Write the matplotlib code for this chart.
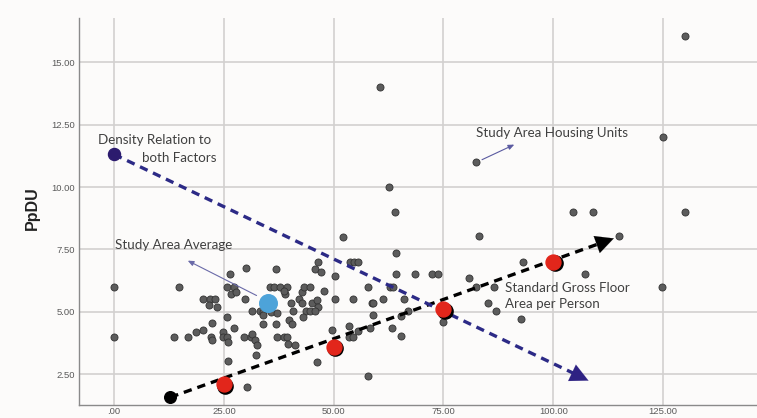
import matplotlib
import matplotlib.pyplot as plt
from matplotlib.transforms import offset_copy

matplotlib.use("Agg")

# Study area housing units (gross floor area per person vs PpDU)
unit_x = [
    0, 0, 14.8, 13.7, 16.9, 18.7, 20.2, 20.3, 21.9, 21.5, 23.4, 23.0,
    22.0, 22.2, 22.4, 24.7, 24.9, 25.6, 26.0, 25.8, 27.2, 26.0, 30.2,
    26.4, 30.0, 25.7, 27.3, 26.6, 27.7, 29.8, 29.6, 31.1, 31.3, 32.1,
    32.5, 32.4, 31.5, 33.2, 33.9, 33.8, 35.7, 37.2, 34.0, 36.8, 39.8,
    40.4, 37.0, 38.7, 39.4, 39.7, 41.2, 35.4, 36.3, 37.8, 39.3, 38.8,
    38.6, 36.8, 40.2, 42.0, 42.7, 43.3, 44.6, 42.7, 45.0, 46.3, 46.5,
    40.8, 43.7, 44.6, 45.8, 43.1, 47.7, 46.5, 45.8, 47.1, 50.3, 50.3,
    54.5, 52.2, 53.7, 54.6, 55.5, 57.8, 58.7, 59.0, 58.3, 49.7, 53.4,
    55.6, 53.5, 54.5, 46.1, 57.8, 60.6, 62.7, 64.0, 64.1, 64.2, 68.5,
    72.3, 73.8, 62.8, 63.6, 61.3, 65.9, 58.9, 67.0, 65.4, 63.2, 65.3,
    75.0, 80.8, 82.4, 86.5, 85.2, 87.0, 92.6, 83.0, 93.0, 82.4, 104.4,
    109.0, 107.2, 115.0, 124.7, 124.9, 130.0, 130.0,
]
unit_y = [
    6.0, 4.0, 6.0, 4.0, 4.0, 4.2, 4.26, 5.5, 5.5, 5.26, 5.2, 5.5,
    4.0, 3.86, 4.53, 4.2, 4.0, 4.0, 3.8, 4.8, 4.35, 3.03, 2.0,
    6.53, 6.75, 6.0, 6.0, 5.7, 5.8, 5.5, 4.0, 4.0, 4.1, 3.86,
    3.66, 3.27, 5.03, 5.03, 4.98, 4.86, 5.0, 4.96, 4.5, 4.5, 4.68,
    4.5, 4.0, 4.0, 4.0, 3.7, 3.65, 6.0, 6.0, 6.0, 6.0, 5.72,
    5.83, 6.7, 5.37, 5.5, 5.8, 6.0, 6.0, 5.36, 5.37, 5.46, 5.2,
    5.04, 5.04, 5.04, 5.04, 4.77, 5.83, 7.0, 6.7, 6.6, 6.43, 5.5,
    5.5, 8.0, 7.0, 7.0, 7.0, 6.0, 5.35, 4.86, 4.35, 4.26, 4.42,
    4.23, 4.0, 4.0, 3.0, 2.43, 14.0, 10.0, 9.0, 7.36, 6.53, 6.53,
    6.53, 6.53, 6.0, 6.0, 5.5, 5.5, 5.36, 5.04, 4.84, 4.36, 4.02,
    4.6, 6.36, 6.0, 6.0, 5.36, 5.03, 4.7, 8.03, 7.0, 11.0, 9.0,
    9.0, 6.5, 8.03, 6.0, 12.0, 9.0, 16.04,
]

avg_x, avg_y = 35.0, 5.36

# standard gross floor area per person (red markers) and its trend
std_x = [25, 50, 75, 100]
std_y = [2.1, 3.6, 5.1, 7.0]
std_start = (12.8, 1.57)
std_end = (114.4, 7.98)

# density relation to both factors
dens_start = (0, 11.31)
dens_end = (108.6, 2.19)

xticks = [0, 25, 50, 75, 100, 125]
xticklabels = [".00", "25.00", "50.00", "75.00", "100.00", "125.00"]
yticks = [2.5, 5.0, 7.5, 10.0, 12.5, 15.0]
yticklabels = ["2.50", "5.00", "7.50", "10.00", "12.50", "15.00"]

W, H = 757, 418
fig = plt.figure(figsize=(W / 100, H / 100), dpi=100)
fig.patch.set_facecolor("#fcfbfa")
ax = fig.add_axes([79 / W, (H - 405) / H, 1 - 79 / W, (405 - 18) / H])
ax.set_facecolor("#fcfbfa")

ax.set_xlim(-8, 146.4)
ax.set_ylim(1.26, 16.78)
ax.set_xticks(xticks)
ax.set_xticklabels(xticklabels)
ax.set_yticks(yticks)
ax.set_yticklabels(yticklabels)
ax.tick_params(length=0, labelsize=6.8, labelcolor="#5a5a5a")
ax.tick_params(axis="x", pad=1.5)
ax.tick_params(axis="y", pad=3)
for lab in ax.get_xticklabels() + ax.get_yticklabels():
    lab.set_family("Liberation Sans")
ax.grid(True, color="#d2d0cf", linewidth=1.2)
ax.set_axisbelow(True)
for s in ["top", "right"]:
    ax.spines[s].set_visible(False)
for s in ["left", "bottom"]:
    ax.spines[s].set_color("#8a8a8a")
    ax.spines[s].set_linewidth(1.0)

ax.set_ylabel("PpDU", fontsize=11.5, fontweight="bold", family="Liberation Sans", color="#222222")
ax.yaxis.set_label_coords(-0.057, 0.51)

# housing units
ax.scatter(unit_x, unit_y, s=26, color="#5c5c5c", edgecolor="#333333", linewidth=0.6, zorder=3)

# standard gross floor area trend (black dashed)
ax.plot([std_start[0], std_end[0] - 3], [std_start[1], std_end[1] - 0.19],
        color="black", linestyle=(0, (2.5, 1.8)), linewidth=2.4, zorder=4)
ax.annotate("", xy=std_end, xytext=(std_end[0] - 6, std_end[1] - 0.38),
            arrowprops=dict(arrowstyle="-|>,head_length=1.3,head_width=0.65",
                            color="black", lw=0.1), zorder=5)
ax.scatter([std_start[0]], [std_start[1]], s=70, color="black", zorder=5)
shadow = offset_copy(ax.transData, fig=fig, x=1.5, y=-1.5, units="dots")
ax.scatter(std_x, std_y, s=120, color="black", transform=shadow, zorder=5)
ax.scatter(std_x, std_y, s=115, color="#e2261b", zorder=6)

# density relation (blue dashed)
ax.plot([dens_start[0], dens_end[0] - 3], [dens_start[1], dens_end[1] + 0.26],
        color="#2c2a86", linestyle=(0, (2.5, 1.8)), linewidth=2.4, zorder=4)
ax.annotate("", xy=dens_end, xytext=(dens_end[0] - 6, dens_end[1] + 0.5),
            arrowprops=dict(arrowstyle="-|>,head_length=1.3,head_width=0.65",
                            color="#2e2283", lw=0.1), zorder=5)
ax.scatter([dens_start[0]], [dens_start[1]], s=75, color="#2c1b6e", zorder=5)

# study area average
ax.scatter([avg_x], [avg_y], s=160, color="#4da3d9", zorder=6)

txt = dict(fontsize=9.6, family="Lato", color="#404040", zorder=7)
ax.text(-3.6, 11.89, "Density Relation to", va="center", **txt)
ax.text(6.4, 11.16, "both Factors", va="center", **txt)
ax.text(82.4, 12.17, "Study Area Housing Units", va="center", **txt)
ax.text(0.2, 7.67, "Study Area Average", va="center", **txt)
ax.text(89.0, 5.64, "Standard Gross Floor\nArea per Person", va="center", linespacing=1.35, **txt)

ax.annotate("", xy=(91.7, 11.75), xytext=(83.2, 11.05),
            arrowprops=dict(arrowstyle="-|>,head_length=0.35,head_width=0.15",
                            color="#5a5aa0", lw=0.8), zorder=7)
ax.annotate("", xy=(16.2, 7.1), xytext=(33.0, 5.6),
            arrowprops=dict(arrowstyle="-|>,head_length=0.35,head_width=0.15",
                            color="#6a6aa8", lw=0.8), zorder=5)

fig.savefig("out.png", dpi=100, facecolor=fig.get_facecolor())
plt.close(fig)
